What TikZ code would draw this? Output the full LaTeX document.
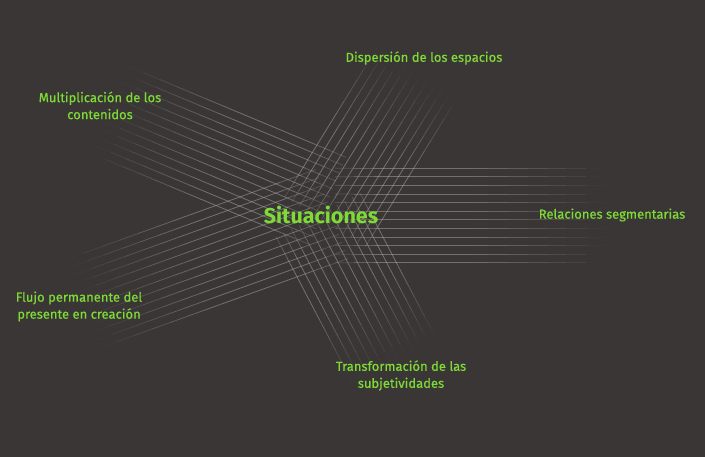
\documentclass[tikz,border=0pt]{standalone}
\usepackage{fontspec}
\setmainfont{Fira Sans}
\newfontfamily\lblfont{Fira Sans}[FakeBold=0.5]
\usetikzlibrary{calc}
\definecolor{bgcol}{RGB}{58,54,53}
\definecolor{lblcol}{RGB}{126,218,54}
\definecolor{lncol}{RGB}{178,173,168}
\begin{document}
\begin{tikzpicture}[x=1pt,y=-1pt,
  bandline/.style={draw=lncol, line width=0.8pt},
  lbl/.style={text=lblcol, font=\lblfont\fontsize{13}{17}\selectfont, align=center, inner sep=0pt},
  hub/.style={text=lblcol, font=\fontsize{21.5}{24}\selectfont\bfseries, inner sep=0pt}]
\fill[bgcol] (0,0) rectangle (705,457);
\useasboundingbox (0,0) rectangle (705,457);
% bands of parallel lines: inner end centre / outer end centre
\foreach \ax/\ay/\bx/\by in {335/215.5/605/215.5, 325/222/417/73, 328/201/110/110, 332/214/82/304, 318/215/394/360}{
  \coordinate (pin) at (\ax,\ay);
  \coordinate (pout) at (\bx,\by);
  \foreach \k in {-5.5,-4.5,...,5.5}{
    \coordinate (ls) at ($(pin)!{\k*8.6pt}!90:(pout)$);
    \coordinate (le) at ($(pout)!{\k*8.6pt}!-90:(pin)$);
    \foreach \j in {0,...,13}{
      \pgfmathsetmacro\ta{\j/14}
      \pgfmathsetmacro\tb{(\j+1)/14}
      \pgfmathsetmacro\tm{(\j+0.5)/14}
      \pgfmathsetmacro\op{0.5*min(1,0.35+3.5*\tm)*min(1,(1-\tm)/0.5)}
      \draw[bandline, draw opacity=\op] ($(ls)!\ta!(le)$) -- ($(ls)!\tb!(le)$);
    }
  }
}
\node[hub] (sit) at (321,215) {Situaciones};
\node[lbl] (disp) at (424,58) {Dispersión de los espacios};
\node[lbl] (mult) at (100,105.5) {Multiplicación de los\\contenidos};
\node[lbl] (rel) at (612,215) {Relaciones segmentarias};
\node[lbl] (flujo) at (79,306.5) {Flujo permanente del\\presente en creación};
\node[lbl] (trans) at (401,375.5) {Transformación de las\\subjetividades};
\end{tikzpicture}
\end{document}
